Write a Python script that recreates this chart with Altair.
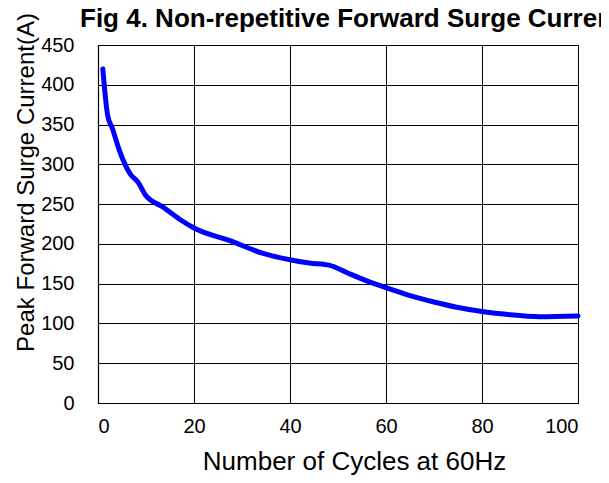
import altair as alt
import pandas as pd

cycles = [1, 2, 3, 4.6, 6.7, 8.4, 9.8, 13.6, 17, 20, 27.5, 34.4, 40, 44, 48.3, 51.8, 56, 60, 65, 70, 75, 80, 85, 92, 100]
current = [420, 362, 345, 315, 288, 277, 262, 246, 231, 220, 204, 188, 180, 176, 173, 164, 153.6, 145, 135, 127, 120, 115, 111.5, 108.5, 109.5]

x_ticks = [0, 20, 40, 60, 80, 100]
y_ticks = [0, 50, 100, 150, 200, 250, 300, 350, 400, 450]
title_text = ["Fig 4. Non-repetitive Forward Surge Current"]

df = pd.DataFrame({"cycles": cycles, "current": current})
tdf = pd.DataFrame({"t": title_text})

FONT = "Arial, Liberation Sans"

line = alt.Chart(df).mark_line(
    color="#0000FF", strokeWidth=5, interpolate="monotone", strokeCap="round"
).encode(
    x=alt.X("cycles:Q",
            scale=alt.Scale(domain=[0, 100], nice=False),
            axis=alt.Axis(values=x_ticks, title="Number of Cycles at 60Hz",
                          labelPadding=13, titleX=256, titleY=66,
                          titleBaseline="alphabetic", titleFontSize=26)),
    y=alt.Y("current:Q",
            scale=alt.Scale(domain=[0, 450], nice=False),
            axis=alt.Axis(values=y_ticks, title="Peak Forward Surge Current(A)",
                          labelPadding=24, titleX=-65, titleY=137,
                          titleBaseline="alphabetic", titleFontSize=24)),
)

title = alt.Chart(tdf).mark_text(
    align="left", baseline="alphabetic", fontSize=26, fontWeight="bold",
    font=FONT, color="black"
).encode(
    text="t:N", x=alt.value(-18), y=alt.value(-18)
)

chart = alt.layer(line, title).properties(
    width=480,
    height=358,
    autosize=alt.AutoSizeParams(type="none"),
    padding={"left": 90, "top": 37, "right": 23, "bottom": 72},
).configure_axis(
    labelFont=FONT, titleFont=FONT, labelFontSize=20, labelColor="black",
    titleColor="black", titleFontWeight="normal",
    grid=True, gridColor="black", gridWidth=1, gridOpacity=1,
    domainColor="black", domainWidth=1.2, ticks=False,
).configure_view(
    stroke="black", strokeWidth=1
)

chart.save("out.html", embed_options={"renderer": "svg", "actions": False})
